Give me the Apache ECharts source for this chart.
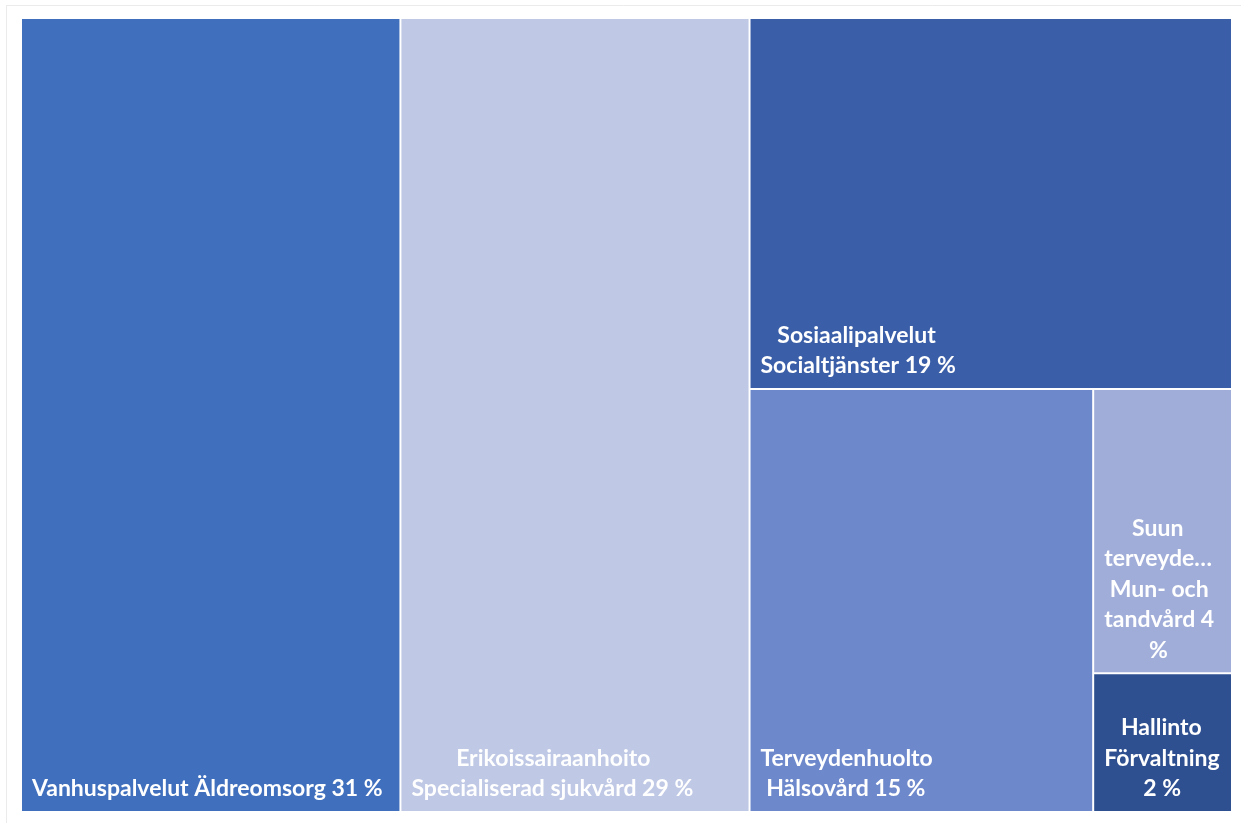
<!DOCTYPE html>
<html>
<head>
<meta charset="utf-8">
<script src="https://cdn.jsdelivr.net/npm/echarts@6/dist/echarts.min.js"></script>
<style>
html,body{margin:0;padding:0;background:#fff;}
#chart{width:1241px;height:823px;}
</style>
</head>
<body>
<div id="chart"></div>
<script>
// ---- data ----
const categories = [
  'Vanhuspalvelut Äldreomsorg',
  'Erikoissairaanhoito Specialiserad sjukvård',
  'Sosiaalipalvelut Socialtjänster',
  'Terveydenhuolto Hälsovård',
  'Suun terveydenhuolto Mun- och tandvård',
  'Hallinto Förvaltning'
];
// shares in %, estimated from the rectangle areas
const values = [31.3, 28.8, 18.6, 15.1, 4.1, 2.0];
// label text as displayed (wrapped lines); {v} = rounded share
const labelLines = [
  ['Vanhuspalvelut Äldreomsorg {v} %'],
  ['Erikoissairaanhoito', 'Specialiserad sjukvård {v} %'],
  ['Sosiaalipalvelut', 'Socialtjänster {v} %'],
  ['Terveydenhuolto', 'Hälsovård {v} %'],
  ['Suun', 'terveyde…', 'Mun- och', 'tandvård {v}', '%'],
  ['Hallinto', 'Förvaltning', '{v} %']
];
const palette = ['#3f6fbd', '#bfc8e5', '#3a5ea8', '#6e88cc', '#a0add8', '#2e4f90'];

// ---- label helpers: lines centred on each other, block left-aligned ----
const FONT_SIZE = 23;
const FONT_FAMILY = 'Lato';
const ctx = document.createElement('canvas').getContext('2d');
ctx.font = 'bold ' + FONT_SIZE + 'px ' + FONT_FAMILY;
const spaceW = ctx.measureText(' ').width;
function centredBlock(lines, v) {
  const txt = lines.map(l => l.replace('{v}', String(Math.round(v))));
  const ws = txt.map(l => ctx.measureText(l).width);
  const m = Math.max.apply(null, ws);
  return txt.map((l, i) => ' '.repeat(Math.max(0, Math.round((m - ws[i]) / 2 / spaceW))) + l).join('\n');
}
const labelText = labelLines.map((lines, i) => centredBlock(lines, values[i]));

const chart = echarts.init(document.getElementById('chart'), null, {renderer: 'canvas'});
chart.setOption({
  animation: false,
  backgroundColor: '#fff',
  graphic: [
    {type: 'line', silent: true, shape: {x1: 6, y1: 5.5, x2: 1241, y2: 5.5}, style: {stroke: '#ebebeb', lineWidth: 1}},
    {type: 'line', silent: true, shape: {x1: 6.5, y1: 5, x2: 6.5, y2: 823}, style: {stroke: '#ebebeb', lineWidth: 1}}
  ],
  series: [{
    type: 'treemap',
    left: 22, top: 19, right: 10, bottom: 12,
    roam: false,
    nodeClick: false,
    breadcrumb: {show: false},
    squareRatio: 0.3,
    itemStyle: {borderWidth: 0, gapWidth: 2, borderColor: '#fff'},
    label: {
      show: true,
      position: 'insideBottomLeft',
      distance: 0,
      padding: [0, 0, 7, 10],
      align: 'left',
      verticalAlign: 'bottom',
      color: '#fff',
      fontWeight: 'bold',
      fontSize: FONT_SIZE,
      fontFamily: FONT_FAMILY,
      lineHeight: 30.5,
      overflow: 'none',
      formatter: function (p) {
        const i = categories.indexOf(p.name);
        return i >= 0 ? labelText[i] : '';
      }
    },
    emphasis: {disabled: true},
    data: categories.map((name, i) => ({
      name: name,
      value: values[i],
      itemStyle: {color: palette[i]}
    }))
  }]
});
</script>
</body>
</html>
